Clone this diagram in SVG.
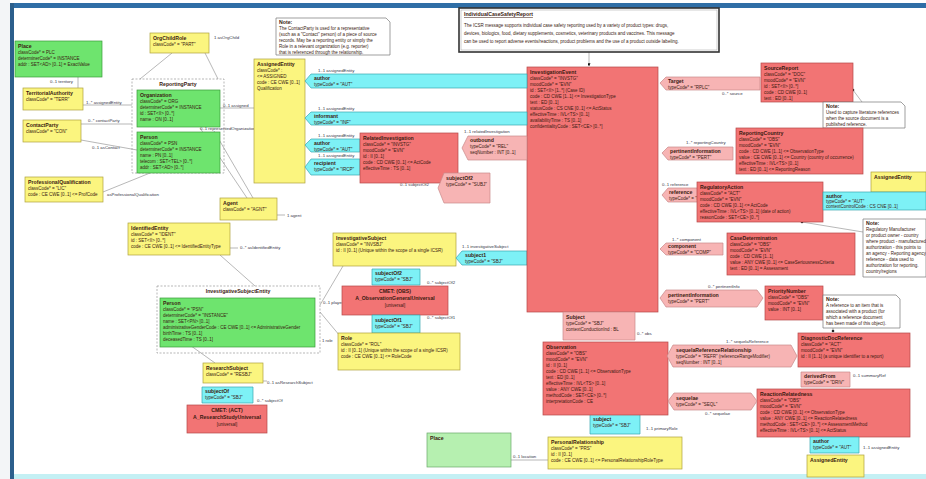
<svg xmlns="http://www.w3.org/2000/svg" width="926" height="479" viewBox="0 0 926 479">
<defs>
<style>
text{font-family:"Liberation Sans",Arial,sans-serif;font-size:4.5px;fill:#3a1a10}
.h{font-weight:bold;font-size:5.2px}
.lb{font-size:4.3px;fill:#334}
.act{fill:#f27474;stroke:#b54848;stroke-width:0.7}
.rel{fill:#f7b4b4;stroke:#c98a8a;stroke-width:0.7}
.part{fill:#7df1f6;stroke:#3aa6b0;stroke-width:0.7}
.role{fill:#fbf57f;stroke:#aea23c;stroke-width:0.7}
.ent{fill:#6ee46e;stroke:#3a9a3a;stroke-width:0.7}
.pale{fill:#b6f0b0;stroke:#6aa86a;stroke-width:0.7}
.note{fill:#fff;stroke:#777;stroke-width:0.7}
.grp{fill:none;stroke:#999;stroke-width:0.7;stroke-dasharray:2 1.5}
.c{fill:none;stroke:#888;stroke-width:0.6}
.ctr{text-anchor:middle}
</style>
<marker id="arr" viewBox="0 0 10 10" refX="9" refY="5" markerWidth="5" markerHeight="5" orient="auto"><path d="M0,0L10,5L0,10z" fill="#111"/></marker>
</defs>
<rect x="0" y="0" width="926" height="479" fill="#fff"/>
<rect x="0" y="0" width="10" height="479" fill="#f3f5f7"/>
<rect x="10" y="3" width="916" height="5" fill="#2f6ea6"/>
<rect x="10" y="3" width="4" height="476" fill="#2c5f8c"/>
<rect x="14" y="474" width="912" height="5" fill="#c4f0f4"/>

<g id="connectors">
<path class="c" d="M78,77V88"/><text class="lb" x="50" y="83">0..1 territory</text>
<path class="c" d="M83,105H132"/><text class="lb" x="86" y="104">1..* assignedEntity</text>
<path class="c" d="M81,124H132"/><text class="lb" x="88" y="122">0..* contactParty</text>
<path class="c" d="M81,140L137,150"/><text class="lb" x="92" y="149">0..1 asContact</text>
<path class="c" d="M103,192L150,173"/><text class="lb" x="107" y="196">asProfessionalQualification</text>
<path class="c" d="M172,53L140,79M205,53L218,79"/><text class="lb" x="214" y="39">1 asOrgChild</text>
<path class="c" d="M220,108H254"/><text class="lb" x="223" y="107">0..1 assigned</text>
<text class="lb" x="200" y="130">0..1 representedOrganization</text>
<path class="c" d="M200,128L247,198M214,131L253,198"/>
<path class="c" d="M277,215H285"/><text class="lb" x="287" y="217">1 agent</text>
<path class="c" d="M230,248H238M220,255L255,286"/><text class="lb" x="240" y="249">0..* asIdentifiedEntity</text>
<path class="c" d="M320,305L343,266M320,312L340,336"/>
<text class="lb" x="323" y="304">0..1 player</text><text class="lb" x="322" y="342">1 role</text>
<path class="c" d="M187,343L215,363"/>
<path class="c" d="M263,381H267"/><text class="lb" x="267" y="384">0..1 asResearchSubject</text>
<text class="lb" x="257" y="402">0..* subjectOf</text>
<text class="lb" x="462" y="248">1..1 investigativeSubject</text>
<text class="lb" x="427" y="284">0..* subjectOf2</text>
<text class="lb" x="427" y="319">0..* subjectOf1</text>
<path class="c" d="M511,460H548"/><text class="lb" x="513" y="458">0..1 location</text>
<text class="lb" x="646" y="430">1..1 primaryRole</text>
<text class="lb" x="637" y="335">0..* obs</text>
<text class="lb" x="318" y="72">1..1 assignedEntity</text>
<text class="lb" x="318" y="110">1..1 assignedEntity</text>
<text class="lb" x="318" y="137">1..1 assignedEntity</text>
<text class="lb" x="318" y="157">1..1 assignedEntity</text>
<text class="lb" x="464" y="133">1..1 relatedInvestigation</text>
<text class="lb" x="400" y="186">0..1 subjectOf2</text>
<text class="lb" x="722" y="95">0..* source</text>
<text class="lb" x="686" y="144">1..* reportingCountry</text>
<text class="lb" x="662" y="186">0..1 reference</text>
<text class="lb" x="672" y="241">1..* component</text>
<text class="lb" x="708" y="288">0..* pertinentInfo</text>
<text class="lb" x="726" y="343">1..* sequelaReference</text>
<text class="lb" x="853" y="377">0..1 summaryRef</text>
<text class="lb" x="705" y="415">0..* sequelae</text>
<text class="lb" x="863" y="449">1..1 assignedEntity</text>
<path class="c" d="M589,52V66" stroke="#111" marker-end="url(#arr)"/>
<path class="c" d="M853,90L862,102M802,222L863,232M833,331V328"/>
<circle cx="853" cy="90" r="1.3" fill="#222"/><circle cx="802" cy="222" r="1.3" fill="#222"/><circle cx="833" cy="331" r="1.3" fill="#222"/>
</g>

<g id="note-main">
<rect x="459" y="8" width="260" height="44" fill="#fff" stroke="#333" stroke-width="1.6"/>
<rect x="461" y="10" width="256" height="40" fill="none" stroke="#888" stroke-width="0.4"/>
<text class="h" x="464" y="16" text-decoration="underline">IndividualCaseSafetyReport</text>
<text x="464" y="27">The ICSR message supports individual case safety reporting used by a variety of product types: drugs,</text>
<text x="464" y="35">devices, biologics, food, dietary supplements, cosmetics, veterinary products and vaccines. This message</text>
<text x="464" y="43">can be used to report adverse events/reactions, product problems and the use of a product outside labeling.</text>
</g>
<g id="note-top">
<path class="note" d="M276,18H386L390,22V55H276Z"/>
<text class="h" x="279" y="24">Note:</text>
<text x="279" y="30">The ContactParty is used for a representative</text>
<text x="279" y="36">(such as a "Contact" person) of a piece of source</text>
<text x="279" y="42">records. May be a reporting entity or simply the</text>
<text x="279" y="48">Role in a relevant organization (e.g. reporter)</text>
<text x="279" y="54">that is referenced through the relationship.</text>
</g>

<g id="Place"><rect class="ent" x="15" y="41" width="87" height="36"/>
<text class="h" x="18" y="48">Place</text><text x="18" y="54">classCode* = PLC</text><text x="18" y="60">determinerCode* = INSTANCE</text><text x="18" y="66">addr : SET&lt;AD&gt; [0..1] = ExactValue</text></g>
<g id="TerritorialAuthority"><rect class="role" x="23" y="88" width="60" height="22"/>
<text class="h" x="26" y="95">TerritorialAuthority</text><text x="26" y="101">classCode* = "TERR"</text></g>
<g id="ContactParty"><rect class="role" x="23" y="120" width="58" height="22"/>
<text class="h" x="26" y="127">ContactParty</text><text x="26" y="133">classCode* = "CON"</text></g>
<g id="ProfessionalQualification"><rect class="role" x="25" y="177" width="78" height="25"/>
<text class="h" x="28" y="184">ProfessionalQualification</text><text x="28" y="190">classCode* = "LIC"</text><text x="28" y="196">code : CE CWE [0..1] &lt;= ProfCode</text></g>
<g id="OrgChildRole"><rect class="role" x="150" y="33" width="59" height="20"/>
<text class="h" x="153" y="40">OrgChildRole</text><text x="153" y="46">classCode* = "PART"</text></g>

<g id="ReportingParty"><rect class="grp" x="132" y="79" width="92" height="94"/>
<text class="h ctr" x="178" y="86">ReportingParty</text>
<rect class="ent" x="137" y="90" width="83" height="37"/>
<text class="h" x="140" y="97">Organization</text><text x="140" y="103">classCode* = ORG</text><text x="140" y="109">determinerCode* = INSTANCE</text><text x="140" y="115">id : SET&lt;II&gt; [0..*]</text><text x="140" y="121">name : ON [0..1]</text>
<rect class="ent" x="137" y="132" width="83" height="41"/>
<text class="h" x="140" y="139">Person</text><text x="140" y="145">classCode* = PSN</text><text x="140" y="151">determinerCode* = INSTANCE</text><text x="140" y="157">name : PN [0..1]</text><text x="140" y="163">telecom : SET&lt;TEL&gt; [0..*]</text><text x="140" y="169">addr : SET&lt;AD&gt; [0..*]</text></g>

<g id="AssignedEntity"><rect class="role" x="254" y="59" width="51" height="124"/>
<text class="h" x="257" y="66">AssignedEntity</text><text x="257" y="72">classCode* :</text><text x="257" y="78">&lt;= ASSIGNED</text><text x="257" y="84">code : CE CWE [0..1]</text><text x="257" y="90">Qualification</text></g>
<g id="Agent"><rect class="role" x="220" y="198" width="57" height="22"/>
<text class="h" x="223" y="205">Agent</text><text x="223" y="211">classCode* = "AGNT"</text></g>
<g id="IdentifiedEntity"><rect class="role" x="128" y="223" width="102" height="32"/>
<text class="h" x="131" y="230">IdentifiedEntity</text><text x="131" y="236">classCode* = "IDENT"</text><text x="131" y="242">id : SET&lt;II&gt; [0..*]</text><text x="131" y="248">code : CE CWE [0..1] &lt;= IdentifiedEntityType</text></g>

<g id="InvestigativeSubjectEntity"><rect class="grp" x="157" y="286" width="163" height="67"/>
<text class="h ctr" x="238" y="293">InvestigativeSubjectEntity</text>
<rect class="ent" x="160" y="298" width="155" height="49"/>
<text class="h" x="163" y="305">Person</text><text x="163" y="311">classCode* = "PSN"</text><text x="163" y="317">determinerCode* = "INSTANCE"</text><text x="163" y="323">name : SET&lt;PN&gt; [0..1]</text><text x="163" y="329">administrativeGenderCode : CE CWE [0..1] &lt;= AdministrativeGender</text><text x="163" y="335">birthTime : TS [0..1]</text><text x="163" y="341">deceasedTime : TS [0..1]</text></g>
<g id="ResearchSubject"><rect class="role" x="203" y="363" width="60" height="20"/>
<text class="h" x="206" y="370">ResearchSubject</text><text x="206" y="376">classCode* = "RESBJ"</text></g>
<g id="subjectOf-rs"><path class="part" d="M202,387H253V403H202Z"/>
<text class="h" x="205" y="393">subjectOf</text><text x="205" y="399">typeCode* = "SBJ"</text></g>
<g id="CMET-study"><rect class="act" x="187" y="405" width="80" height="28"/>
<text class="h ctr" x="227" y="412">CMET: (ACT)</text><text class="h ctr" x="227" y="419">A_ResearchStudyUniversal</text><text class="ctr" x="227" y="426">[universal]</text></g>

<g id="InvestigativeSubject"><rect class="role" x="333" y="233" width="123" height="33"/>
<text class="h" x="336" y="240">InvestigativeSubject</text><text x="336" y="246">classCode* = "INVSBJ"</text><text x="336" y="252">id : II [0..1] (Unique within the scope of a single ICSR)</text></g>
<g id="subject1"><path class="part" d="M462,251H527V265H462L456,258Z"/>
<text class="h" x="465" y="257">subject1</text><text x="465" y="263">typeCode* = "SBJ"</text></g>
<g id="subjectOf2"><path class="part" d="M372,269H420V285H372Z"/>
<text class="h" x="375" y="275">subjectOf2</text><text x="375" y="281">typeCode* = "SBJ"</text></g>
<g id="CMET-obs"><rect class="act" x="342" y="286" width="106" height="29"/>
<text class="h ctr" x="395" y="293">CMET: (OBS)</text><text class="h ctr" x="395" y="300">A_ObservationGeneralUniversal</text><text class="ctr" x="395" y="307">[universal]</text></g>
<g id="subjectOf1"><path class="part" d="M372,315H420V333H372Z"/>
<text class="h" x="375" y="322">subjectOf1</text><text x="375" y="328">typeCode* = "SBJ"</text></g>
<g id="Role"><rect class="role" x="338" y="333" width="122" height="37"/>
<text class="h" x="341" y="340">Role</text><text x="341" y="346">classCode* = "ROL"</text><text x="341" y="352">id : II [0..1] (Unique within the scope of a single ICSR)</text><text x="341" y="358">code : CE CWE [0..1] &lt;= RoleCode</text></g>

<g id="PlaceBottom"><rect class="pale" x="427" y="433" width="84" height="34"/>
<text class="h" x="430" y="440">Place</text></g>
<g id="PersonalRelationship"><rect class="role" x="548" y="437" width="134" height="32"/>
<text class="h" x="551" y="444">PersonalRelationship</text><text x="551" y="450">classCode* = "PRS"</text><text x="551" y="456">id : II [0..1]</text><text x="551" y="462">code : CE CWE [0..1] &lt;= PersonalRelationshipRoleType</text></g>
<g id="subject-obs"><path class="part" d="M590,414H640V434H590Z"/>
<text class="h" x="593" y="421">subject</text><text x="593" y="427">typeCode* = "SBJ"</text></g>

<g id="InvestigationEvent"><rect class="act" x="527" y="67" width="131" height="245"/>
<text class="h" x="530" y="74">InvestigationEvent</text><text x="530" y="80">classCode* = "INVSTG"</text><text x="530" y="86">moodCode* = "EVN"</text><text x="530" y="92">id : SET&lt;II&gt; [1..*] (Case ID)</text><text x="530" y="98">code : CD CWE [1..1] &lt;= InvestigationType</text><text x="530" y="104">text : ED [0..1]</text><text x="530" y="110">statusCode : CS CNE [0..1] &lt;= ActStatus</text><text x="530" y="116">effectiveTime : IVL&lt;TS&gt; [0..1]</text><text x="530" y="122">availabilityTime : TS [0..1]</text><text x="530" y="128">confidentialityCode : SET&lt;CE&gt; [0..*]</text></g>
<g id="subject-ie"><path class="rel" d="M563,312H635V340H563Z"/>
<text class="h" x="566" y="319">Subject</text><text x="566" y="325">typeCode* = "SBJ"</text><text x="566" y="331">contextConductionInd : BL</text></g>
<g id="Observation"><rect class="act" x="543" y="342" width="125" height="73"/>
<text class="h" x="546" y="349">Observation</text><text x="546" y="355">classCode* = "OBS"</text><text x="546" y="361">moodCode* = "EVN"</text><text x="546" y="367">id : II [0..1]</text><text x="546" y="373">code : CD CWE [1..1] &lt;= ObservationType</text><text x="546" y="379">text : ED [0..1]</text><text x="546" y="385">effectiveTime : IVL&lt;TS&gt; [0..1]</text><text x="546" y="391">value : ANY CWE [0..1]</text><text x="546" y="397">methodCode : SET&lt;CE&gt; [0..*]</text><text x="546" y="403">interpretationCode : CE</text></g>

<g id="author-band"><path class="part" d="M311,74H527V88H311L305,81Z"/>
<text class="h" x="314" y="80">author</text><text x="314" y="86">typeCode* = "AUT"</text></g>
<g id="informant-band"><path class="part" d="M311,112H527V125H311L305,118Z"/>
<text class="h" x="314" y="118">informant</text><text x="314" y="124">typeCode* = "INF"</text></g>
<g id="author-small"><path class="part" d="M311,139H360V152H311L305,145Z"/>
<text class="h" x="314" y="145">author</text><text x="314" y="151">typeCode* = "AUT"</text></g>
<g id="informant-small"><path class="part" d="M311,159H360V175H311L305,167Z"/>
<text class="h" x="314" y="165">recipient</text><text x="314" y="171">typeCode* = "IRCP"</text></g>
<g id="RelatedInvestigation"><rect class="act" x="360" y="133" width="98" height="50"/>
<text class="h" x="363" y="140">RelatedInvestigation</text><text x="363" y="146">classCode* = "INVSTG"</text><text x="363" y="152">moodCode* = "EVN"</text><text x="363" y="158">id : II [0..1]</text><text x="363" y="164">code : CD CWE [0..1] &lt;= ActCode</text><text x="363" y="170">effectiveTime : TS [0..1]</text></g>
<g id="outbound-rel"><path class="rel" d="M468,136H527V160H468L462,148Z"/>
<text class="h" x="470" y="142">outbound</text><text x="470" y="148">typeCode* = "REL"</text><text x="470" y="154">seqNumber : INT [0..1]</text></g>
<g id="ControlActEvent"><path class="rel" d="M444,173H490V203H444L438,188Z"/>
<text class="h" x="446" y="180">subjectOf2</text><text x="446" y="186">typeCode* = "SUBJ"</text></g>

<g id="source-rel"><path class="rel" d="M666,77H760V90H666L660,83Z"/>
<text class="h" x="668" y="83">Target</text><text x="668" y="89">typeCode* = "RPLC"</text></g>
<g id="SourceReport"><rect class="act" x="761" y="63" width="92" height="39"/>
<text class="h" x="764" y="70">SourceReport</text><text x="764" y="76">classCode* = "DOC"</text><text x="764" y="82">moodCode* = "EVN"</text><text x="764" y="88">id : SET&lt;II&gt; [0..*]</text><text x="764" y="94">code : CD CWE [0..1]</text><text x="764" y="100">text : ED [0..1]</text></g>
<g id="note-source"><path class="note" d="M823,102H901L905,106V128H823Z"/>
<text class="h" x="826" y="108">Note:</text><text x="826" y="114">Used to capture literature references</text><text x="826" y="120">when the source document is a</text><text x="826" y="126">published reference.</text></g>
<g id="pertinent-rel"><path class="rel" d="M668,147H733V160H668L662,153Z"/>
<text class="h" x="670" y="153">pertinentInformation</text><text x="670" y="159">typeCode* = "PERT"</text></g>
<g id="ReportingCountry"><rect class="act" x="736" y="128" width="127" height="46"/>
<text class="h" x="739" y="135">ReportingCountry</text><text x="739" y="141">classCode* = "OBS"</text><text x="739" y="147">moodCode* = "EVN"</text><text x="739" y="153">code : CD CWE [1..1] &lt;= ObservationType</text><text x="739" y="159">value : CE CWE [0..1] &lt;= Country (country of occurrence)</text><text x="739" y="165">effectiveTime : IVL&lt;TS&gt; [0..1]</text><text x="739" y="171">text : ED [0..1] &lt;= ReportingReason</text></g>
<g id="AssignedEntityR"><rect class="role" x="871" y="172" width="55" height="20"/>
<text class="h" x="874" y="179">AssignedEntity</text></g>
<g id="reference-rel"><path class="rel" d="M668,188H698V202H668L662,195Z"/>
<text class="h" x="669" y="194">reference</text><text x="669" y="200">typeCode* = "R"</text></g>
<g id="RegulatoryAction"><rect class="act" x="697" y="182" width="126" height="40"/>
<text class="h" x="700" y="189">RegulatoryAction</text><text x="700" y="195">classCode* = "ACT"</text><text x="700" y="201">moodCode* = "EVN"</text><text x="700" y="207">code : CD CWE [0..1] &lt;= ActCode</text><text x="700" y="213">effectiveTime : IVL&lt;TS&gt; [0..1] (date of action)</text><text x="700" y="219">reasonCode : SET&lt;CE&gt; [0..*]</text></g>
<g id="author-r"><path class="part" d="M823,192H926V210H823Z"/>
<text class="h" x="826" y="198">author</text><text x="826" y="203">typeCode* = "AUT"</text><text x="826" y="208">contextControlCode : CS CNE [0..1]</text></g>
<g id="note-right"><path class="note" d="M863,219H926V277H863Z"/>
<text class="h" x="866" y="225">Note:</text><text x="866" y="231">Regulatory Manufacturer</text><text x="866" y="237">or product owner - country</text><text x="866" y="243">where product - manufactured</text><text x="866" y="249">authorization - this points to</text><text x="866" y="255">an agency - Reporting agency</text><text x="866" y="261">reference - data used to</text><text x="866" y="267">authorization for reporting.</text><text x="866" y="273">country/regions</text></g>
<g id="component-rel"><path class="rel" d="M666,243H723V255H666L660,249Z"/>
<text class="h" x="668" y="248">component</text><text x="668" y="254">typeCode* = "COMP"</text></g>
<g id="CaseDetermination"><rect class="act" x="727" y="233" width="128" height="42"/>
<text class="h" x="730" y="240">CaseDetermination</text><text x="730" y="246">classCode* = "OBS"</text><text x="730" y="252">moodCode* = "EVN"</text><text x="730" y="258">code : CD CWE [1..1]</text><text x="730" y="264">value : ANY CWE [0..1] &lt;= CaseSeriousnessCriteria</text><text x="730" y="270">text : ED [0..1] = Assessment</text></g>
<g id="pertinent2-rel"><path class="rel" d="M666,290H757L763,298L757,307H666L660,298Z"/>
<text class="h" x="668" y="297">pertinentInformation</text><text x="668" y="303">typeCode* = "PERT"</text></g>
<g id="PriorityNumber"><rect class="act" x="765" y="286" width="58" height="34"/>
<text class="h" x="768" y="293">PriorityNumber</text><text x="768" y="299">classCode* = "OBS"</text><text x="768" y="305">moodCode* = "EVN"</text><text x="768" y="311">value : INT [0..1]</text></g>
<g id="note-priority"><path class="note" d="M823,295H896L900,299V328H823Z"/>
<text class="h" x="826" y="301">Note:</text><text x="826" y="307">A reference to an item that is</text><text x="826" y="313">associated with a product (for</text><text x="826" y="319">which a reference document</text><text x="826" y="325">has been made of this object).</text></g>
<g id="sequela-rel"><path class="rel" d="M673,345H791L797,356L791,367H673L667,356Z"/>
<text class="h" x="676" y="352">sequelaReferenceRelationship</text><text x="676" y="358">typeCode* = "REFR" (referenceRangeModifier)</text><text x="676" y="364">seqNumber : INT [0..1]</text></g>
<g id="DrugReference"><rect class="act" x="798" y="333" width="112" height="34"/>
<text class="h" x="801" y="340">DiagnosticDocReference</text><text x="801" y="346">classCode* = "ACT"</text><text x="801" y="352">moodCode* = "EVN"</text><text x="801" y="358">id : II [1..1] (a unique identifier to a report)</text></g>
<g id="summaryRef"><path class="rel" d="M801,372H850V387H801Z"/>
<text class="h" x="804" y="378">derivedFrom</text><text x="804" y="384">typeCode* = "DRIV"</text></g>
<g id="ReactionRelevance"><rect class="act" x="757" y="389" width="153" height="48"/>
<text class="h" x="760" y="396">ReactionRelatedness</text><text x="760" y="402">classCode* = "OBS"</text><text x="760" y="408">moodCode* = "EVN"</text><text x="760" y="414">code : CD CWE [0..1] &lt;= ObservationType</text><text x="760" y="420">value : ANY CWE [0..1] &lt;= ReactionRelatedness</text><text x="760" y="426">methodCode : SET&lt;CE&gt; [0..*] &lt;= AssessmentMethod</text><text x="760" y="432">effectiveTime : IVL&lt;TS&gt; [0..1] &lt;= ActStatus</text></g>
<g id="sequelae-rel"><path class="rel" d="M674,393H751L757,401L751,410H674L668,401Z"/>
<text class="h" x="676" y="400">sequelae</text><text x="676" y="406">typeCode* = "SEQL"</text></g>
<g id="author-rr"><path class="part" d="M810,437H859V453H810Z"/>
<text class="h" x="813" y="443">author</text><text x="813" y="449">typeCode* = "AUT"</text></g>
<g id="AssignedEntityB"><rect class="role" x="807" y="455" width="57" height="22"/>
<text class="h" x="810" y="462">AssignedEntity</text></g>
</svg>
